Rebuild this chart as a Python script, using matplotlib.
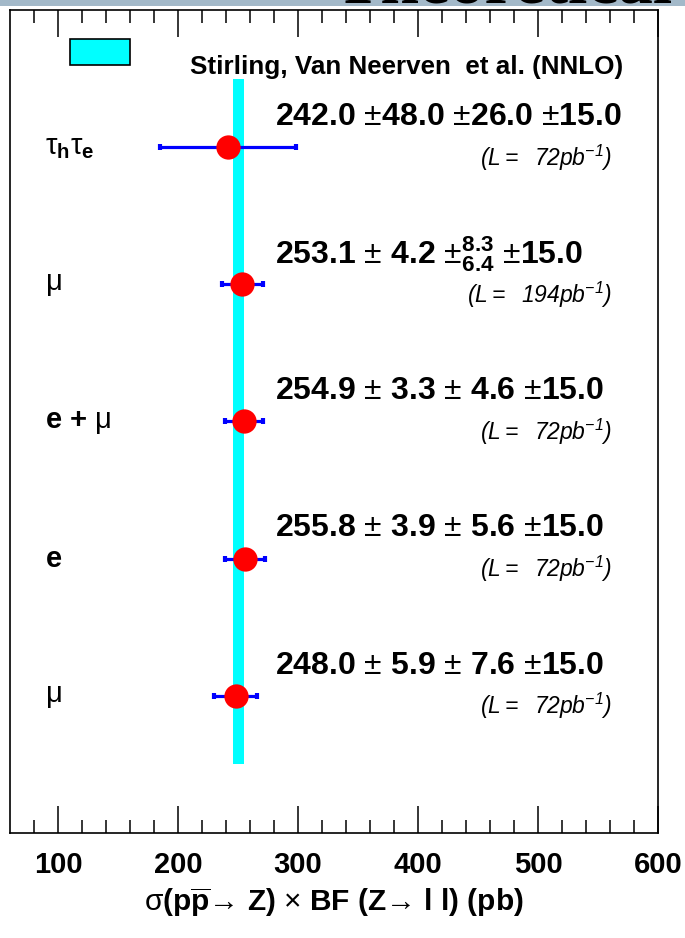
import numpy as np
import matplotlib.pyplot as plt
from matplotlib.patches import Rectangle

plt.rcParams['font.family'] = ['Liberation Sans', 'DejaVu Sans']
plt.rcParams['mathtext.fontset'] = 'custom'
plt.rcParams['mathtext.rm'] = 'Liberation Sans'
plt.rcParams['mathtext.it'] = 'Liberation Sans:italic'
plt.rcParams['mathtext.sf'] = 'Liberation Sans:italic'
plt.rcParams['mathtext.bf'] = 'Liberation Sans:bold'
plt.rcParams['mathtext.default'] = 'rm'

# Datos: medidas de sigma x BF (pb), de arriba hacia abajo
canales = [r"$\tau_{\mathbf{h}}\tau_{\mathbf{e}}$", r"$\mu$", r"$\mathbf{e}\ \mathbf{{+}}\ \mu$",
           r"$\mathbf{e}$", r"$\mu$"]
xsec = [242.0, 253.1, 254.9, 255.8, 248.0]
stat = [48.0, 4.2, 3.3, 3.9, 5.9]
sys_up = [26.0, 8.3, 4.6, 5.6, 7.6]
sys_dn = [26.0, 6.4, 4.6, 5.6, 7.6]
lumi = [15.0, 15.0, 15.0, 15.0, 15.0]
lum_int = [72, 194, 72, 72, 72]
filas = [5, 4, 3, 2, 1]

# Prediccion teorica (NNLO)
teo_centro = 250.8
teo_err = 4.6
teo_label = "Stirling, Van Neerven  et al. (NNLO)"

xticks_major = [100, 200, 300, 400, 500, 600]


def num(v):
    # numeros de una cifra llevan un espacio delante, como en el original
    s = r"\mathbf{%.1f}" % v
    return (r"\ " + s) if v < 10 else s


fig = plt.figure(figsize=(6.85, 9.38), dpi=100)
W, H = 685, 938
ax = fig.add_axes([10 / W, 1 - 833 / H, 648 / W, 823 / H])

# banda teorica
ax.fill_betweenx([0.5, 5.5], teo_centro - teo_err, teo_centro + teo_err,
                 color='#00ffff', lw=0, zorder=1)

# errores totales
xs = np.array(xsec)
err_up = np.sqrt(np.array(stat)**2 + np.array(sys_up)**2 + np.array(lumi)**2)
err_dn = np.sqrt(np.array(stat)**2 + np.array(sys_dn)**2 + np.array(lumi)**2)
ax.errorbar(xs, filas, xerr=[err_dn, err_up], fmt='none', ecolor='#0000ff',
            elinewidth=2.3, capsize=2.5, capthick=3, zorder=2)
ax.plot(xs, filas, 'o', color='#ff0000', ms=17.5, mec='none', zorder=3)

# textos
for i in range(len(xsec)):
    y = filas[i]
    ax.text(89, y, canales[i], fontsize=21, va='center', ha='left')
    if sys_up[i] == sys_dn[i]:
        s_sys = r"\ {\pm}" + num(sys_up[i])
    else:
        s_sys = r"\ {\pm}^{\mathbf{%.1f}}_{\mathbf{%.1f}}" % (sys_up[i], sys_dn[i])
    s = r"$\mathbf{%.1f}\ {\pm}%s%s\ {\pm}%s$" % (xsec[i], num(stat[i]), s_sys, num(lumi[i]))
    ax.text(281, y + 0.22, s, fontsize=23, va='center', ha='left')
    s_l = r"$\mathsf{(L=\ \ %d pb}^{\mathsf{-1}}\mathsf{)}$" % lum_int[i]
    ax.text(562, y - 0.075, s_l, fontsize=16.5, va='center', ha='right')

# leyenda
ax.add_patch(Rectangle((110, 5.60), 50, 0.19, facecolor='#00ffff',
                       edgecolor='black', lw=1.2, zorder=4))
ax.text(210, 5.585, teo_label, fontsize=18.7, fontweight='bold', va='center', ha='left')

ax.set_xlim(60, 600)
ax.set_ylim(0, 6)
ax.set_yticks([])
ax.set_xticks(xticks_major)
ax.set_xticks(np.arange(80, 600, 20), minor=True)
ax.tick_params(axis='x', which='both', direction='in', top=True, bottom=True,
               width=1.1, color='black')
ax.tick_params(axis='x', which='major', length=19.5, pad=13, labelsize=21)
ax.tick_params(axis='x', which='minor', length=9.5)
for lab in ax.get_xticklabels():
    lab.set_fontweight('bold')
for sp in ax.spines.values():
    sp.set_linewidth(1.2)

ax.set_xlabel(r"$\sigma\mathbf{(p}\overline{\mathbf{p}}→\mathbf{\ Z)}\ {\times}\ "
              r"\mathbf{BF\ (Z}→\mathbf{\ l\ l)\ (pb)}$", fontsize=21.5, labelpad=5)

# franja superior de la diapositiva
fig.add_artist(Rectangle((0, 1 - 6 / H), 1, 6 / H, transform=fig.transFigure,
                         facecolor='#a3b9c9', edgecolor='none'))
fig.text(335 / W, 1 - 2.5 / H, "Theoretical", fontsize=50, family='Liberation Serif',
         fontweight='bold', va='baseline', ha='left')

fig.savefig('out.png', dpi=100)
